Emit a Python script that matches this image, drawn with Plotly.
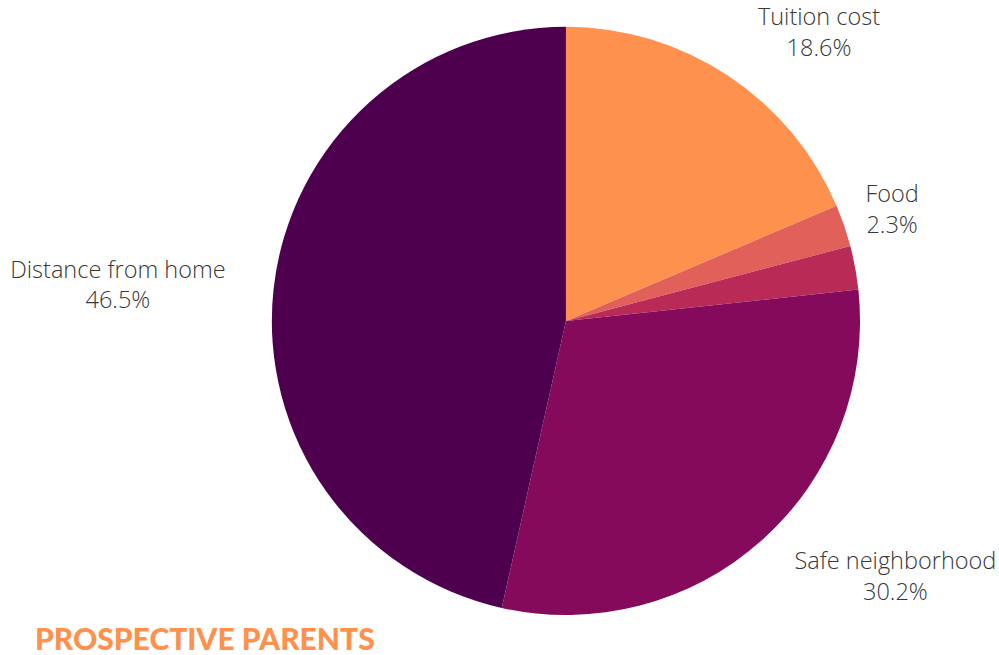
import plotly.graph_objects as go

labels = ["Tuition cost", "Food", "Other", "Safe neighborhood", "Distance from home"]
values = [18.6, 2.3, 2.4, 30.2, 46.5]
shown = [True, True, False, True, True]
colors = ["#FE914E", "#E2605A", "#B92B56", "#860A5B", "#4E004F"]

texts = [f"{l}<br>{v:.1f}%" if s else "" for l, v, s in zip(labels, values, shown)]


def only(names):
    return [t if l in names else "" for l, t in zip(labels, texts)]


label_font = dict(family="Open Sans", size=23.5, color="#383838", weight=300)
clear = ["rgba(0,0,0,0)"] * len(values)

fig = go.Figure()
# visible pie
fig.add_trace(go.Pie(
    labels=labels, values=values, textinfo="none",
    sort=False, direction="clockwise", rotation=0,
    marker=dict(colors=colors, line=dict(width=0)),
    domain=dict(x=[0.2, 0.933], y=[0.061, 0.959]),
    showlegend=False, automargin=False,
))

# transparent, larger pies carrying the outside labels
label_groups = [
    (["Tuition cost", "Safe neighborhood"], dict(x=[0.2, 0.933], y=[0.024, 1.0])),
    (["Distance from home"], dict(x=[0.193, 0.926], y=[0.024, 1.0])),
    (["Food"], dict(x=[0.2, 0.933], y=[0.0702, 0.9863])),
]
for names, dom in label_groups:
    fig.add_trace(go.Pie(
        labels=labels, values=values, text=only(names), textinfo="text",
        textposition="outside", sort=False, direction="clockwise", rotation=0,
        marker=dict(colors=clear, line=dict(width=0)),
        outsidetextfont=label_font, domain=dom,
        showlegend=False, automargin=False, hoverinfo="skip",
    ))

fig.add_annotation(text="PROSPECTIVE PARENTS", xref="paper", yref="paper",
                   x=0.033, y=-0.004, xanchor="left", yanchor="bottom", showarrow=False,
                   font=dict(family="Lato", size=30, color="#FF914D", weight=900))
fig.update_layout(width=999, height=655, margin=dict(l=0, r=0, t=0, b=0),
                  paper_bgcolor="white", plot_bgcolor="white")
fig.write_html("out.html")
